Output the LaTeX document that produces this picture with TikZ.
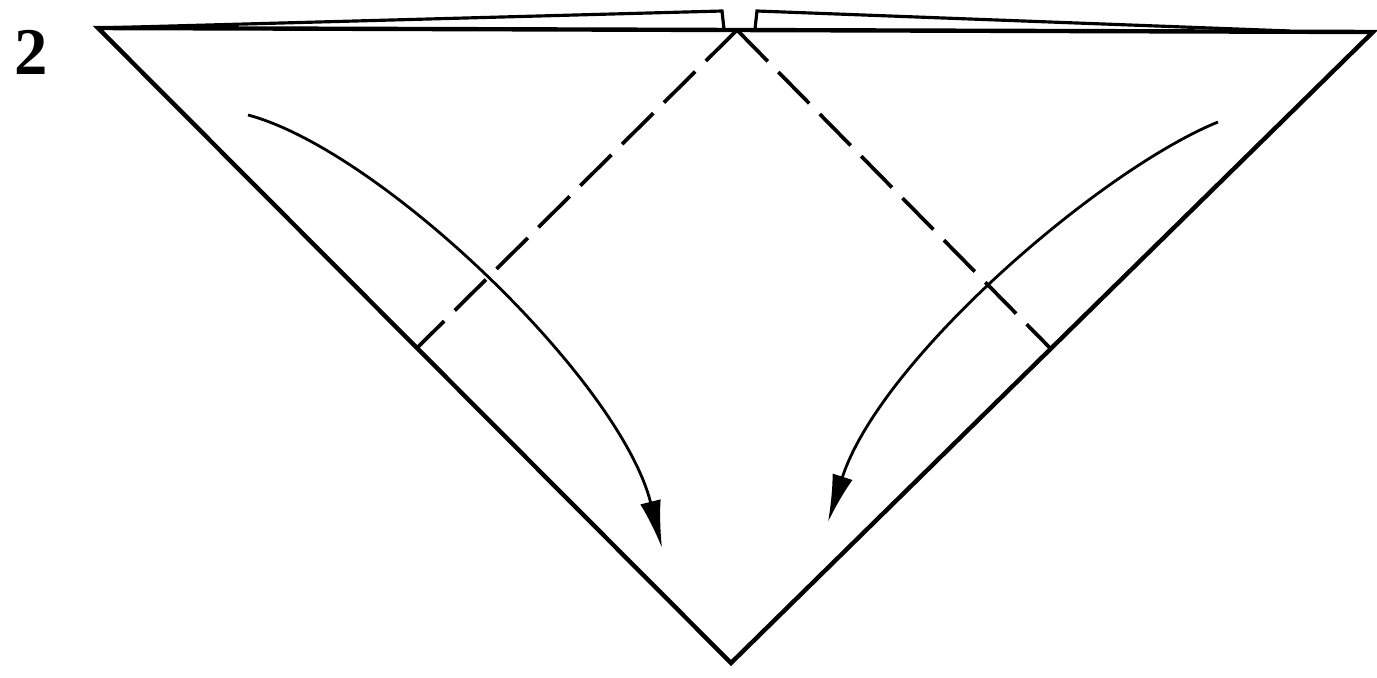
\documentclass[tikz,border=0pt]{standalone}
\usepackage{fontspec}
\setmainfont{Liberation Serif}
\usetikzlibrary{arrows.meta}
\tikzset{
  edge/.style={line width=2.5pt, line join=miter, line cap=round},
  thinedge/.style={line width=1.8pt, line join=miter},
  fold/.style={line width=2.1pt, dash pattern=on 0.88cm off 0.3cm},
  movearrow/.style={line width=1.6pt, -{Latex[length=0.95cm,width=0.42cm]}},
}
\begin{document}
\begin{tikzpicture}[x=0.02cm,y=-0.02cm]
\useasboundingbox (0,0) rectangle (1377,677);
\coordinate (L) at (98,28);
\coordinate (R) at (1373,32);
\coordinate (B) at (731,663);
\coordinate (A) at (737,30);
\coordinate (DL) at (417,348);
\coordinate (DR) at (1052,350);
% main triangle
\draw[edge] (L) -- (R) -- (B) -- cycle;
% top flaps
\draw[thinedge] (L) -- (722,11) -- (724,29);
\draw[thinedge] (755,29) -- (757,11) -- (1290,31);
% fold lines
\draw[fold] (A) -- (DL);
\draw[fold] (A) -- (DR);
% arrows
\coordinate (s1) at (248,115);
\coordinate (e1) at (662,548);
\coordinate (s2) at (1218,122);
\coordinate (e2) at (828,522);
\draw[movearrow] (s1) .. controls (380,150) and (620,380) .. (e1);
\draw[movearrow] (s2) .. controls (1100,170) and (880,360) .. (e2);
% step number
\node[font=\fontsize{38}{40}\selectfont\bfseries, inner sep=0pt] (num) at (31,52) {2};
\end{tikzpicture}
\end{document}
